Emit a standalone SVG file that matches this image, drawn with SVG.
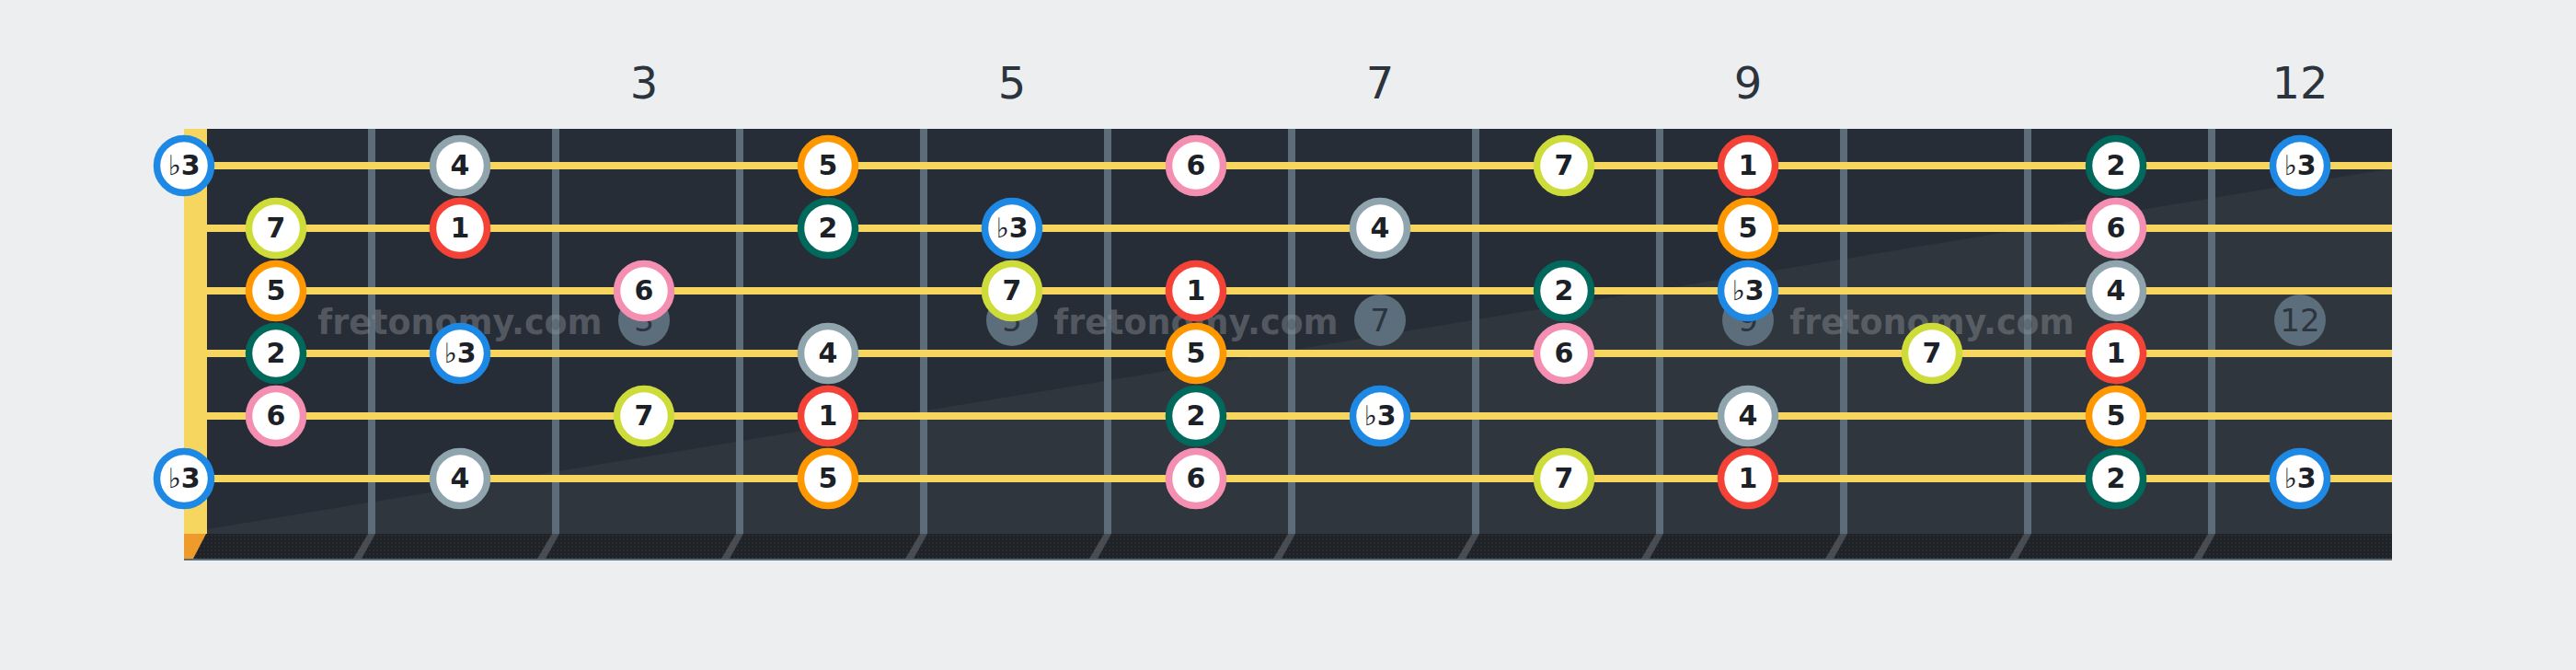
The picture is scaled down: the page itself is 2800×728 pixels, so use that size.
<svg xmlns="http://www.w3.org/2000/svg" width="2800" height="728" viewBox="0 0 2800 728">
<defs>
<style>
.fl{font-family:"DejaVu Sans","Liberation Sans",sans-serif;font-size:48px;fill:#2b333d;text-anchor:middle}
.mk circle{fill:#5c6d7b}
.mk text{font-family:"DejaVu Sans","Liberation Sans",sans-serif;font-size:34px;fill:#2c343d;text-anchor:middle}
.wm{font-family:"DejaVu Sans","Liberation Sans",sans-serif;font-size:36.5px;font-weight:bold;fill:#8c9096;fill-opacity:0.45;text-anchor:middle}
.fw{fill:#5d6c79}
.fs{fill:#6a6e73;fill-opacity:0.55}
.str{stroke:#f7d660;stroke-width:8}
.note circle{fill:#ffffff;stroke-width:7.5}
.note text{font-family:"DejaVu Sans","Liberation Sans",sans-serif;font-size:30px;font-weight:bold;fill:#1c2128;text-anchor:middle}
.note tspan.fl2{font-weight:normal}
.i1 circle{stroke:#f44336}
.i2 circle{stroke:#00695c}
.i3 circle{stroke:#1e88e5}
.i4 circle{stroke:#90a4ae}
.i5 circle{stroke:#ff9800}
.i6 circle{stroke:#f48fb1}
.i7 circle{stroke:#cddc39}
</style>
<pattern id="dots" width="4" height="4" patternUnits="userSpaceOnUse">
<rect width="4" height="4" fill="#1f2328"/>
<circle cx="2" cy="2" r="0.9" fill="#2a2f36"/>
</pattern>
</defs>
<rect width="2800" height="728" fill="#eceef0"/>
<g id="fretboard">
<rect x="200" y="140" width="2400" height="468" fill="#272d36"/>
<polygon points="225,575 2600,183 2600,580 225,580" fill="#30363e"/>
<rect x="200" y="580" width="2400" height="28" fill="url(#dots)"/>
<rect x="200" y="607" width="2400" height="2" fill="#5d6c79"/>
</g>
<g id="frets">
<rect class="fw" x="400" y="140" width="8" height="440"/>
<rect class="fw" x="600" y="140" width="8" height="440"/>
<rect class="fw" x="800" y="140" width="8" height="440"/>
<rect class="fw" x="1000" y="140" width="8" height="440"/>
<rect class="fw" x="1200" y="140" width="8" height="440"/>
<rect class="fw" x="1400" y="140" width="8" height="440"/>
<rect class="fw" x="1600" y="140" width="8" height="440"/>
<rect class="fw" x="1800" y="140" width="8" height="440"/>
<rect class="fw" x="2000" y="140" width="8" height="440"/>
<rect class="fw" x="2200" y="140" width="8" height="440"/>
<rect class="fw" x="2400" y="140" width="8" height="440"/>
<polygon class="fs" points="400,580 408,580 393,607 384,607"/>
<polygon class="fs" points="600,580 608,580 593,607 584,607"/>
<polygon class="fs" points="800,580 808,580 793,607 784,607"/>
<polygon class="fs" points="1000,580 1008,580 993,607 984,607"/>
<polygon class="fs" points="1200,580 1208,580 1193,607 1184,607"/>
<polygon class="fs" points="1400,580 1408,580 1393,607 1384,607"/>
<polygon class="fs" points="1600,580 1608,580 1593,607 1584,607"/>
<polygon class="fs" points="1800,580 1808,580 1793,607 1784,607"/>
<polygon class="fs" points="2000,580 2008,580 1993,607 1984,607"/>
<polygon class="fs" points="2200,580 2208,580 2193,607 2184,607"/>
<polygon class="fs" points="2400,580 2408,580 2393,607 2384,607"/>
</g>
<g id="nut">
<rect x="200" y="140" width="25" height="440" fill="#f7d660"/>
<polygon points="200,580 224,580 210,607 200,607" fill="#ef9b2c"/>
</g>
<g id="fret-labels">
<text class="fl" x="700" y="107">3</text>
<text class="fl" x="1100" y="107">5</text>
<text class="fl" x="1500" y="107">7</text>
<text class="fl" x="1900" y="107">9</text>
<text class="fl" x="2500" y="107">12</text>
</g>
<g id="markers">
<g class="mk"><circle cx="700" cy="348" r="28"/><text x="700" y="360">3</text></g>
<g class="mk"><circle cx="1100" cy="348" r="28"/><text x="1100" y="360">5</text></g>
<g class="mk"><circle cx="1500" cy="348" r="28"/><text x="1500" y="360">7</text></g>
<g class="mk"><circle cx="1900" cy="348" r="28"/><text x="1900" y="360">9</text></g>
<g class="mk"><circle cx="2500" cy="348" r="28"/><text x="2500" y="360">12</text></g>
</g>
<g id="watermark">
<text class="wm" x="500" y="363">fretonomy.com</text>
<text class="wm" x="1300" y="363">fretonomy.com</text>
<text class="wm" x="2100" y="363">fretonomy.com</text>
</g>
<g id="strings">
<line class="str" x1="225" y1="180" x2="2600" y2="180"/>
<line class="str" x1="225" y1="248" x2="2600" y2="248"/>
<line class="str" x1="225" y1="316" x2="2600" y2="316"/>
<line class="str" x1="225" y1="384" x2="2600" y2="384"/>
<line class="str" x1="225" y1="452" x2="2600" y2="452"/>
<line class="str" x1="225" y1="520" x2="2600" y2="520"/>
</g>
<g id="notes">
<g id="s1f0" class="note i3"><circle cx="200" cy="180" r="29.5"/><text x="200" y="190"><tspan class="fl2">♭</tspan>3</text></g>
<g id="s1f2" class="note i4"><circle cx="500" cy="180" r="29.5"/><text x="500" y="190">4</text></g>
<g id="s1f4" class="note i5"><circle cx="900" cy="180" r="29.5"/><text x="900" y="190">5</text></g>
<g id="s1f6" class="note i6"><circle cx="1300" cy="180" r="29.5"/><text x="1300" y="190">6</text></g>
<g id="s1f8" class="note i7"><circle cx="1700" cy="180" r="29.5"/><text x="1700" y="190">7</text></g>
<g id="s1f9" class="note i1"><circle cx="1900" cy="180" r="29.5"/><text x="1900" y="190">1</text></g>
<g id="s1f11" class="note i2"><circle cx="2300" cy="180" r="29.5"/><text x="2300" y="190">2</text></g>
<g id="s1f12" class="note i3"><circle cx="2500" cy="180" r="29.5"/><text x="2500" y="190"><tspan class="fl2">♭</tspan>3</text></g>

<g id="s2f1" class="note i7"><circle cx="300" cy="248" r="29.5"/><text x="300" y="258">7</text></g>
<g id="s2f2" class="note i1"><circle cx="500" cy="248" r="29.5"/><text x="500" y="258">1</text></g>
<g id="s2f4" class="note i2"><circle cx="900" cy="248" r="29.5"/><text x="900" y="258">2</text></g>
<g id="s2f5" class="note i3"><circle cx="1100" cy="248" r="29.5"/><text x="1100" y="258"><tspan class="fl2">♭</tspan>3</text></g>
<g id="s2f7" class="note i4"><circle cx="1500" cy="248" r="29.5"/><text x="1500" y="258">4</text></g>
<g id="s2f9" class="note i5"><circle cx="1900" cy="248" r="29.5"/><text x="1900" y="258">5</text></g>
<g id="s2f11" class="note i6"><circle cx="2300" cy="248" r="29.5"/><text x="2300" y="258">6</text></g>

<g id="s3f1" class="note i5"><circle cx="300" cy="316" r="29.5"/><text x="300" y="326">5</text></g>
<g id="s3f3" class="note i6"><circle cx="700" cy="316" r="29.5"/><text x="700" y="326">6</text></g>
<g id="s3f5" class="note i7"><circle cx="1100" cy="316" r="29.5"/><text x="1100" y="326">7</text></g>
<g id="s3f6" class="note i1"><circle cx="1300" cy="316" r="29.5"/><text x="1300" y="326">1</text></g>
<g id="s3f8" class="note i2"><circle cx="1700" cy="316" r="29.5"/><text x="1700" y="326">2</text></g>
<g id="s3f9" class="note i3"><circle cx="1900" cy="316" r="29.5"/><text x="1900" y="326"><tspan class="fl2">♭</tspan>3</text></g>
<g id="s3f11" class="note i4"><circle cx="2300" cy="316" r="29.5"/><text x="2300" y="326">4</text></g>

<g id="s4f1" class="note i2"><circle cx="300" cy="384" r="29.5"/><text x="300" y="394">2</text></g>
<g id="s4f2" class="note i3"><circle cx="500" cy="384" r="29.5"/><text x="500" y="394"><tspan class="fl2">♭</tspan>3</text></g>
<g id="s4f4" class="note i4"><circle cx="900" cy="384" r="29.5"/><text x="900" y="394">4</text></g>
<g id="s4f6" class="note i5"><circle cx="1300" cy="384" r="29.5"/><text x="1300" y="394">5</text></g>
<g id="s4f8" class="note i6"><circle cx="1700" cy="384" r="29.5"/><text x="1700" y="394">6</text></g>
<g id="s4f10" class="note i7"><circle cx="2100" cy="384" r="29.5"/><text x="2100" y="394">7</text></g>
<g id="s4f11" class="note i1"><circle cx="2300" cy="384" r="29.5"/><text x="2300" y="394">1</text></g>

<g id="s5f1" class="note i6"><circle cx="300" cy="452" r="29.5"/><text x="300" y="462">6</text></g>
<g id="s5f3" class="note i7"><circle cx="700" cy="452" r="29.5"/><text x="700" y="462">7</text></g>
<g id="s5f4" class="note i1"><circle cx="900" cy="452" r="29.5"/><text x="900" y="462">1</text></g>
<g id="s5f6" class="note i2"><circle cx="1300" cy="452" r="29.5"/><text x="1300" y="462">2</text></g>
<g id="s5f7" class="note i3"><circle cx="1500" cy="452" r="29.5"/><text x="1500" y="462"><tspan class="fl2">♭</tspan>3</text></g>
<g id="s5f9" class="note i4"><circle cx="1900" cy="452" r="29.5"/><text x="1900" y="462">4</text></g>
<g id="s5f11" class="note i5"><circle cx="2300" cy="452" r="29.5"/><text x="2300" y="462">5</text></g>

<g id="s6f0" class="note i3"><circle cx="200" cy="520" r="29.5"/><text x="200" y="530"><tspan class="fl2">♭</tspan>3</text></g>
<g id="s6f2" class="note i4"><circle cx="500" cy="520" r="29.5"/><text x="500" y="530">4</text></g>
<g id="s6f4" class="note i5"><circle cx="900" cy="520" r="29.5"/><text x="900" y="530">5</text></g>
<g id="s6f6" class="note i6"><circle cx="1300" cy="520" r="29.5"/><text x="1300" y="530">6</text></g>
<g id="s6f8" class="note i7"><circle cx="1700" cy="520" r="29.5"/><text x="1700" y="530">7</text></g>
<g id="s6f9" class="note i1"><circle cx="1900" cy="520" r="29.5"/><text x="1900" y="530">1</text></g>
<g id="s6f11" class="note i2"><circle cx="2300" cy="520" r="29.5"/><text x="2300" y="530">2</text></g>
<g id="s6f12" class="note i3"><circle cx="2500" cy="520" r="29.5"/><text x="2500" y="530"><tspan class="fl2">♭</tspan>3</text></g>
</g>
</svg>
